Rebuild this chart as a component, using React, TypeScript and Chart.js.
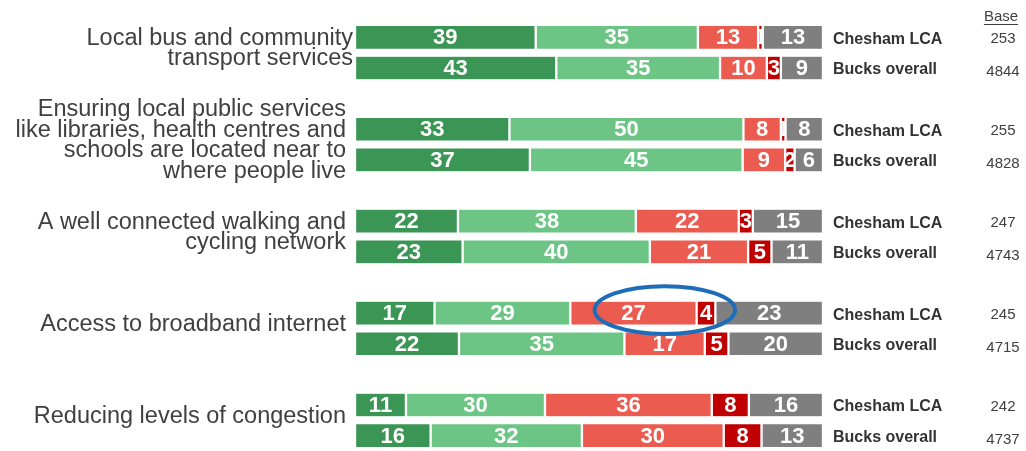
import React, { useEffect, useRef } from "react";
import { Chart, registerables } from "chart.js";

Chart.register(...registerables);

const groupLabels = [
  "Local bus and community\ntransport services",
  "Ensuring local public services\nlike libraries, health centres and\nschools are located near to\nwhere people live",
  "A well connected walking and\ncycling network",
  "Access to broadband internet",
  "Reducing levels of congestion",
];
const seriesNames = ["Chesham LCA", "Bucks overall"];

// order per group: Chesham LCA, Bucks overall
const veryImportant = [39, 43, 33, 37, 22, 23, 17, 22, 11, 16];
const fairlyImportant = [35, 35, 50, 45, 38, 40, 29, 35, 30, 32];
const notVeryImportant = [13, 10, 8, 9, 22, 21, 27, 17, 36, 30];
const notAtAllImportant = [1, 3, 1, 2, 3, 5, 4, 5, 8, 8];
const dontKnow = [13, 9, 8, 6, 15, 11, 23, 20, 16, 13];
const bases = [253, 4844, 255, 4828, 247, 4743, 245, 4715, 242, 4737];

const responseNames = ["Very important", "Fairly important", "Not very important", "Not at all important", "Don't know"];
const responseValues = [veryImportant, fairlyImportant, notVeryImportant, notAtAllImportant, dontKnow];
const responseColors = ["#3b9555", "#6cc585", "#eb5b50", "#c00000", "#7f7f7f"];

// highlighted area (data units): x centre, x radius; row index
const highlightRow = 6; // Access to broadband internet, Chesham LCA
const highlightX = 66.2;
const highlightRx = 15;

const FONT = "'Liberation Sans', Arial, sans-serif";

// build slot layout: per group two bars + a spacer
const slotLabels: string[] = [];
const slotRow: (number | null)[] = [];
groupLabels.forEach((_, g) => {
  slotLabels.push(`g${g}-c`);
  slotRow.push(g * 2);
  slotLabels.push(`g${g}-b`);
  slotRow.push(g * 2 + 1);
  if (g < groupLabels.length - 1) {
    slotLabels.push(`gap${g}`);
    slotRow.push(null);
  }
});
const rowSlot = (r: number) => slotRow.indexOf(r);
const rowTotals = veryImportant.map((_, r) => responseValues.reduce((s, arr) => s + arr[r], 0));

const overlayPlugin = {
  id: "overlay",
  afterDatasetsDraw(chart: any) {
    const ctx = chart.ctx as CanvasRenderingContext2D;
    const area = chart.chartArea;
    const xs = chart.scales.x;
    const ys = chart.scales.y;

    // segment labels, clipped to bars
    chart.data.datasets.forEach((ds: any, di: number) => {
      const meta = chart.getDatasetMeta(di);
      meta.data.forEach((el: any, i: number) => {
        const r = slotRow[i];
        if (r === null) return;
        const p = el.getProps(["x", "y", "base", "height"], true);
        const left = Math.min(p.x, p.base);
        const w = Math.abs(p.x - p.base);
        ctx.save();
        ctx.beginPath();
        ctx.rect(left, p.y - p.height / 2, w, p.height);
        ctx.clip();
        ctx.fillStyle = "#ffffff";
        ctx.font = `bold 22px ${FONT}`;
        ctx.textAlign = "center";
        ctx.textBaseline = "middle";
        ctx.fillText(String(responseValues[di][r]), left + w / 2, p.y + 1);
        ctx.restore();
      });
    });

    ctx.save();
    // group labels
    ctx.fillStyle = "#404040";
    ctx.font = `23.5px ${FONT}`;
    ctx.textAlign = "right";
    ctx.textBaseline = "middle";
    groupLabels.forEach((lab, g) => {
      const yc = (ys.getPixelForValue(rowSlot(g * 2)) + ys.getPixelForValue(rowSlot(g * 2 + 1))) / 2 - 4;
      const lines = lab.split("\n");
      const lh = 20.5;
      const x = area.left - (g === 0 ? 2 : 9);
      lines.forEach((ln, k) => {
        ctx.fillText(ln, x, yc + (k - (lines.length - 1) / 2) * lh);
      });
    });

    // series names and bases
    for (let r = 0; r < bases.length; r++) {
      const y = ys.getPixelForValue(rowSlot(r));
      ctx.fillStyle = "#333333";
      ctx.font = `bold 16px ${FONT}`;
      ctx.textAlign = "left";
      ctx.fillText(seriesNames[r % 2], area.right + 10, y + 2);
      ctx.fillStyle = "#404040";
      ctx.font = `15px ${FONT}`;
      ctx.textAlign = "center";
      ctx.fillText(String(bases[r]), 1003, y + 2 + (r % 2) * 2);
    }
    // Base header
    ctx.font = `15px ${FONT}`;
    ctx.fillStyle = "#404040";
    ctx.textAlign = "center";
    ctx.fillText("Base", 1001, 17);
    const bw = ctx.measureText("Base").width;
    ctx.strokeStyle = "#404040";
    ctx.lineWidth = 1;
    ctx.beginPath();
    ctx.moveTo(1001 - bw / 2, 24.5);
    ctx.lineTo(1001 + bw / 2, 24.5);
    ctx.stroke();

    // highlight ellipse
    const cx = xs.getPixelForValue(highlightX);
    const rx = xs.getPixelForValue(highlightX + highlightRx) - cx;
    const cy = ys.getPixelForValue(rowSlot(highlightRow) - 0.1);
    const ry = ys.getPixelForValue(rowSlot(highlightRow) + 0.68) - cy;
    ctx.strokeStyle = "#1f6cb8";
    ctx.lineWidth = 4;
    ctx.beginPath();
    ctx.ellipse(cx, cy, rx, ry, 0, 0, Math.PI * 2);
    ctx.stroke();
    ctx.restore();
  },
};

export default function App() {
  const ref = useRef<HTMLCanvasElement | null>(null);
  useEffect(() => {
    if (!ref.current) return;
    const datasets = responseNames.map((name, di) => ({
      label: name,
      data: slotRow.map((r) => (r === null ? null : (responseValues[di][r] / rowTotals[r]) * 100)),
      backgroundColor: responseColors[di],
      borderColor: "rgba(255,255,255,0.85)",
      borderWidth: { left: 1.5, right: 1.5, top: 0.5, bottom: 0.5 },
      borderSkipped: false,
      barThickness: 23,
    }));
    const chart = new Chart(ref.current, {
      type: "bar",
      data: { labels: slotLabels, datasets },
      options: {
        indexAxis: "y",
        responsive: false,
        animation: false,
        events: [],
        layout: { padding: { left: 355, right: 203, top: 22, bottom: 0 } },
        plugins: { legend: { display: false }, tooltip: { enabled: false }, title: { display: false } },
        scales: {
          x: { stacked: true, min: 0, max: 100, display: false },
          y: { stacked: true, display: false, offset: true },
        },
      },
      plugins: [overlayPlugin],
    } as any);
    return () => chart.destroy();
  }, []);
  return (
    <div style={{ position: "absolute", left: 0, top: 0, width: 1026, height: 451, background: "#fff" }}>
      <canvas ref={ref} width={1026} height={451} style={{ display: "block" }} />
    </div>
  );
}
